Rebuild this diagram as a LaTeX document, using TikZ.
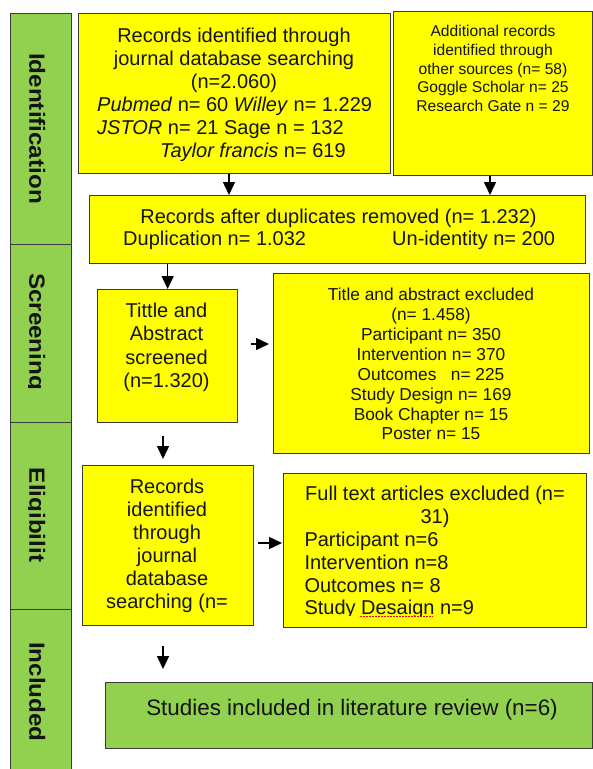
\documentclass[tikz,border=0pt]{standalone}
\usepackage{fontspec}
\usepackage{graphicx}
\setmainfont{Liberation Sans}
\usetikzlibrary{arrows.meta,calc}
\definecolor{boxyellow}{HTML}{FFFF00}
\definecolor{boxgreen}{HTML}{92D050}
\definecolor{edge}{HTML}{3A3A3A}
\definecolor{ink}{HTML}{141414}
\begin{document}
\begin{tikzpicture}[x=1pt,y=-1pt,
  cell/.style={draw=edge, line width=1.2pt, fill=boxgreen, anchor=north west, inner sep=0pt, minimum width=60.5pt},
  box/.style={draw=edge, line width=1.3pt, fill=boxyellow, anchor=north west, inner sep=0pt},
  gbox/.style={box, fill=boxgreen},
  lbl/.style={font=\fontsize{22}{26}\selectfont\bfseries, anchor=base, rotate=-90, inner sep=0pt, text=ink},
  tA/.style={font=\fontsize{20}{23}\selectfont, anchor=base, inner sep=0pt, text=ink},
  tB/.style={tA, font=\fontsize{15.6}{18}\selectfont},
  tE/.style={tA, font=\fontsize{17.3}{20}\selectfont},
  tH/.style={tA, font=\fontsize{22.4}{26}\selectfont},
  arr/.style={draw=black, line width=1.5pt, -{Triangle[length=13pt,width=12pt]}}
]
\useasboundingbox (0,0) rectangle (593,769);
\clip (0,0) rectangle (593,769);
\fill[white] (0,0) rectangle (593,769);

% phase column
\node[cell, minimum height=231pt] (c1) at (10,13) {};
\node[cell, minimum height=178pt] (c2) at (10,244) {};
\node[cell, minimum height=187pt] (c3) at (10,422) {};
\node[cell, minimum height=175pt] (c4) at (10,609) {};
\begin{scope}
\clip (28.8,13) rectangle (71,769);
\node[lbl] (l1) at (29.3,128.5) {\scalebox{1.1}[1]{Identification}};
\node[lbl] (l2) at (29.3,331.5) {\scalebox{1.1}[1]{Screening}};
\node[lbl] (l3) at (29.3,515) {\scalebox{1.1}[1]{Eligibilit}};
\node[lbl] (l4) at (29.3,692) {\scalebox{1.1}[1]{Included}};
\end{scope}

% boxes
\node[box, minimum width=312pt, minimum height=160pt] (A) at (78,13) {};
\node[box, minimum width=199pt, minimum height=164pt] (B) at (393,11) {};
\node[box, minimum width=496pt, minimum height=68pt] (C) at (89,195) {};
\node[box, minimum width=140pt, minimum height=133pt] (D) at (97,289) {};
\node[box, minimum width=316pt, minimum height=180pt] (E) at (273,273) {};
\node[box, minimum width=171pt, minimum height=160pt] (F) at (82,465) {};
\node[box, minimum width=303pt, minimum height=154pt] (G) at (283,473) {};
\node[gbox, minimum width=487pt, minimum height=66pt] (H) at (105,682) {};

% box A text
\node[tA] (a1) at (234,42) {Records identified through};
\node[tA] (a2) at (234,65) {journal database searching};
\node[tA] (a3) at (234,88.5) {(n=2.060)};
\node[tA, anchor=base west] (a4) at (97,111) {\textit{Pubmed} n= 60 \textit{Willey} n= 1.229};
\node[tA, anchor=base west] (a5) at (97,134) {\textit{JSTOR} n= 21 Sage n = 132};
\node[tA, anchor=base west] (a6) at (160,157.5) {\textit{Taylor francis} n= 619};

% box B text
\node[tB] (b1) at (493,36.7) {Additional records};
\node[tB] (b2) at (493,55.4) {identified through};
\node[tB] (b3) at (493,74.1) {other sources (n= 58)};
\node[tB] (b4) at (493,92.8) {Goggle Scholar n= 25};
\node[tB] (b5) at (493,111.5) {Research Gate n = 29};

% box C text
\node[tA] (cc1) at (338.5,223.5) {Records after duplicates removed (n= 1.232)};
\node[tA, anchor=base west] (cc2) at (123,245.5) {Duplication n= 1.032};
\node[tA, anchor=base west] (cc3) at (392,245.5) {Un-identity n= 200};

% box D text
\node[tA] (d1) at (166.5,317.5) {Tittle and};
\node[tA] (d2) at (166.5,340.8) {Abstract};
\node[tA] (d3) at (166.5,364) {screened};
\node[tA] (d4) at (166.5,387.3) {(n=1.320)};

% box E text
\node[tE] (e1) at (431,300) {Title and abstract excluded};
\node[tE] (e2) at (431,320) {(n= 1.458)};
\node[tE] (e3) at (431,340) {Participant n= 350};
\node[tE] (e4) at (431,360) {Intervention n= 370};
\node[tE] (e5) at (431,380) {Outcomes\ \ \ n= 225};
\node[tE] (e6) at (431,400) {Study Design n= 169};
\node[tE] (e7) at (431,420) {Book Chapter n= 15};
\node[tE] (e8) at (431,439.5) {Poster n= 15};

% box F text
\begin{scope}
\clip (83,466) rectangle (252,624);
\node[tA] (f1) at (167,493) {Records};
\node[tA] (f2) at (167,516) {identified};
\node[tA] (f3) at (167,539) {through};
\node[tA] (f4) at (167,562) {journal};
\node[tA] (f5) at (167,585) {database};
\node[tA] (f6) at (167,608) {searching (n=};
\end{scope}

% box G text
\begin{scope}
\clip (284,474) rectangle (585,615.6);
\node[tA] (g1) at (435,500) {Full text articles excluded (n=};
\node[tA] (g2) at (435,523) {31)};
\node[tA, anchor=base west] (g3) at (304.3,546) {Participant n=6};
\node[tA, anchor=base west] (g4) at (304.3,569) {Intervention n=8};
\node[tA, anchor=base west] (g5) at (304.3,592) {Outcomes n= 8};
\node[tA, anchor=base west] (g6) at (304.3,614.5) {Study Desaign n=9};
\end{scope}
\draw[red, line width=0.8pt, dash pattern=on 1.5pt off 1.5pt] (g6.base west -| 360,0) ++(0,2) coordinate (sq1) -- ++(73,0) coordinate (sq2);

% box H text
\node[tH] (h1) at (352,715) {Studies included in literature review (n=6)};

% connectors
\coordinate (xa) at (229,0);
\coordinate (xb) at (490,0);
\coordinate (xdf) at (163,0);
\coordinate (yde) at (0,344);
\coordinate (yfg) at (0,543);
\draw[arr] (xa |- A.south) -- (xa |- C.north);
\draw[arr] (xb |- B.south) -- (xb |- C.north);
\draw[arr] (D.north |- C.south) -- (D.north);
\draw[arr, shorten <=13pt, shorten >=4pt] (D.east |- yde) -- (E.west |- yde);
\draw[arr, shorten <=13pt, shorten >=6pt] (xdf |- D.south) -- (xdf |- F.north);
\draw[arr, shorten <=4pt, shorten >=1pt] (F.east |- yfg) -- (G.west |- yfg);
\draw[arr, shorten <=20pt, shorten >=13pt] (xdf |- F.south) -- (xdf |- H.north);
\end{tikzpicture}
\end{document}
